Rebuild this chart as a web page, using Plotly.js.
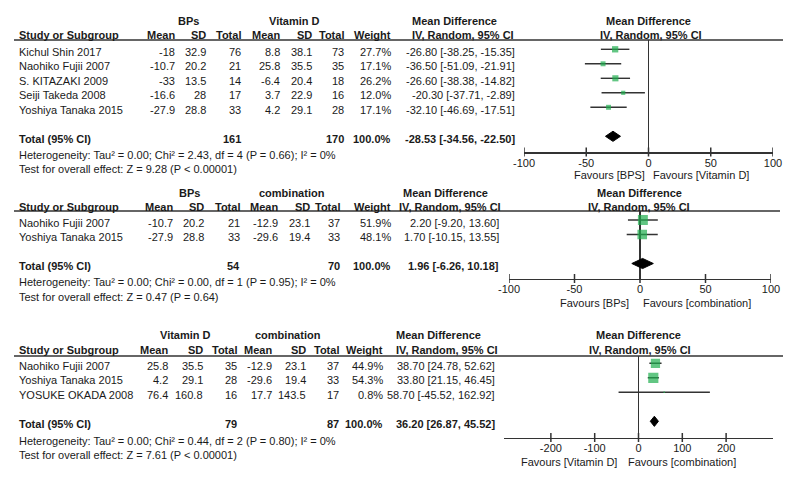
<!DOCTYPE html>
<html><head><meta charset="utf-8">
<script src="https://cdn.plot.ly/plotly-3.0.1.min.js"></script>
<style>html,body{margin:0;padding:0;background:#fff}#chart{width:798px;height:477px}</style>
</head><body><div id="chart"></div>
<script>
// ---------- Panel 1: BPs vs Vitamin D ----------
const studies1 = ["Kichul Shin 2017","Naohiko Fujii 2007","S. KITAZAKI 2009","Seiji Takeda 2008","Yoshiya Tanaka 2015"];
const expMean1 = [-18,-10.7,-33,-16.6,-27.9];
const expSD1   = [32.9,20.2,13.5,28,28.8];
const expN1    = [76,21,14,17,33];
const ctlMean1 = [8.8,25.8,-6.4,3.7,4.2];
const ctlSD1   = [38.1,35.5,20.4,22.9,29.1];
const ctlN1    = [73,35,18,16,28];
const weight1  = [27.7,17.1,26.2,12.0,17.1];
const md1 = [-26.80,-36.50,-26.60,-20.30,-32.10];
const lo1 = [-38.25,-51.09,-38.38,-37.71,-46.69];
const hi1 = [-15.35,-21.91,-14.82,-2.89,-17.51];
const totals1 = [161,170,100.0];          // exp total, ctl total, weight %
const pooled1 = [-28.53,-34.56,-22.50];   // estimate, lower, upper
const groups1 = ["BPs","Vitamin D"];
const favours1 = ["Favours [BPS]","Favours [Vitamin D]"];
const ticks1 = [-100,-50,0,50,100];
const het1 = "Heterogeneity: Tau² = 0.00; Chi² = 2.43, df = 4 (P = 0.66); I² = 0%";
const test1 = "Test for overall effect: Z = 9.28 (P < 0.00001)";

// ---------- Panel 2: BPs vs combination ----------
const studies2 = ["Naohiko Fujii 2007","Yoshiya Tanaka 2015"];
const expMean2 = [-10.7,-27.9];
const expSD2   = [20.2,28.8];
const expN2    = [21,33];
const ctlMean2 = [-12.9,-29.6];
const ctlSD2   = [23.1,19.4];
const ctlN2    = [37,33];
const weight2  = [51.9,48.1];
const md2 = [2.20,1.70];
const lo2 = [-9.20,-10.15];
const hi2 = [13.60,13.55];
const totals2 = [54,70,100.0];
const pooled2 = [1.96,-6.26,10.18];
const groups2 = ["BPs","combination"];
const favours2 = ["Favours [BPs]","Favours [combination]"];
const ticks2 = [-100,-50,0,50,100];
const het2 = "Heterogeneity: Tau² = 0.00; Chi² = 0.00, df = 1 (P = 0.95); I² = 0%";
const test2 = "Test for overall effect: Z = 0.47 (P = 0.64)";

// ---------- Panel 3: Vitamin D vs combination ----------
const studies3 = ["Naohiko Fujii 2007","Yoshiya Tanaka 2015","YOSUKE OKADA 2008"];
const expMean3 = [25.8,4.2,76.4];
const expSD3   = [35.5,29.1,160.8];
const expN3    = [35,28,16];
const ctlMean3 = [-12.9,-29.6,17.7];
const ctlSD3   = [23.1,19.4,143.5];
const ctlN3    = [37,33,17];
const weight3  = [44.9,54.3,0.8];
const md3 = [38.70,33.80,58.70];
const lo3 = [24.78,21.15,-45.52];
const hi3 = [52.62,46.45,162.92];
const totals3 = [79,87,100.0];
const pooled3 = [36.20,26.87,45.52];
const groups3 = ["Vitamin D","combination"];
const favours3 = ["Favours [Vitamin D]","Favours [combination]"];
const ticks3 = [-200,-100,0,100,200];
const het3 = "Heterogeneity: Tau² = 0.00; Chi² = 0.44, df = 2 (P = 0.80); I² = 0%";
const test3 = "Test for overall effect: Z = 7.61 (P < 0.00001)";

const panels = [
  {studies:studies1, em:expMean1, es:expSD1, en:expN1, cm:ctlMean1, cs:ctlSD1, cn:ctlN1, w:weight1, md:md1, lo:lo1, hi:hi1,
   totals:totals1, pooled:pooled1, groups:groups1, favours:favours1, ticks:ticks1, het:het1, test:test1,
   L:{y0:49.3, sp:14.5, top:40, axis:152, grp:21.5, hdr:35, het:155, testY:169, favY:175, xl:524, xr:773, range:[-100,100],
      cols:[175,206,241,280,312,344,391], mdR:515, grpC:[188,294], mdHC:454, mdSC:463, plHC:648, plSC:651, ulR:783, favL:645, favR:653, msz:1.2}},
  {studies:studies2, em:expMean2, es:expSD2, en:expN2, cm:ctlMean2, cs:ctlSD2, cn:ctlN2, w:weight2, md:md2, lo:lo2, hi:hi2,
   totals:totals2, pooled:pooled2, groups:groups2, favours:favours2, ticks:ticks2, het:het2, test:test2,
   L:{y0:220, sp:14.5, top:211, axis:278.5, grp:193, hdr:207, het:282.3, testY:296.5, favY:303, xl:509, xr:771, range:[-100,100],
      cols:[173,204,240,278,310,340,391], mdR:499, grpC:[189,292], mdHC:445, mdSC:450, plHC:639, plSC:639, ulR:780, favL:629, favR:643, msz:1.38}},
  {studies:studies3, em:expMean3, es:expSD3, en:expN3, cm:ctlMean3, cs:ctlSD3, cn:ctlN3, w:weight3, md:md3, lo:lo3, hi:hi3,
   totals:totals3, pooled:pooled3, groups:groups3, favours:favours3, ticks:ticks3, het:het3, test:test3,
   L:{y0:363.3, sp:14.5, top:356, axis:437.5, grp:335, hdr:350, het:441, testY:455, favY:462, xl:504, xr:773, range:[-307,307],
      cols:[168,203,237,272,306,339,383], mdR:495, grpC:[185,288], mdHC:438, mdSC:447, plHC:638, plSC:640, ulR:783, favL:617, favR:628, msz:1.38}}
];

const W = 798, H = 477;
const FONT = "Liberation Sans, Arial, sans-serif";
const TXT = "#1a1a1a", LINE = "#333333", GREEN = "#1fae4f";
const px = x => x / W;
const py = y => 1 - y / H;
const ci = (m,l,h) => m.toFixed(2) + " [" + l.toFixed(2) + ", " + h.toFixed(2) + "]";

const data = [];
const annotations = [];
const shapes = [];
const layout = {
  width: W, height: H, margin: {l:0, r:0, t:0, b:0},
  paper_bgcolor: "#fff", plot_bgcolor: "rgba(0,0,0,0)",
  showlegend: false, hovermode: false,
  font: {family: FONT, size: 11, color: TXT}
};

function txt(x, y, text, anchor, bold) {
  annotations.push({xref:"paper", yref:"paper", x:px(x), y:py(y), text: bold ? "<b>"+text+"</b>" : text,
    xanchor: anchor, yanchor:"middle", showarrow:false, borderpad:0, borderwidth:0,
    font:{family:FONT, size:11, color:TXT}});
}

panels.forEach((p, k) => {
  const L = p.L;
  const sfx = k === 0 ? "" : String(k+1);
  const xa = "x" + sfx, ya = "y" + sfx;
  const n = p.studies.length;
  const totIdx = n + 1;

  layout["xaxis" + sfx] = {
    domain:[px(L.xl), px(L.xr)], range:L.range, anchor:ya, fixedrange:true,
    showline:true, linecolor:LINE, linewidth:1.5, mirror:false,
    showgrid:false, zeroline:true, zerolinecolor:LINE, zerolinewidth:1.5,
    ticks:"", tickmode:"array", tickvals:p.ticks, ticktext:p.ticks.map(String),
    tickfont:{family:FONT, size:11, color:TXT}
  };
  layout["yaxis" + sfx] = {
    domain:[py(L.axis), py(L.top)],
    range:[(L.axis - L.y0)/L.sp, (L.top - L.y0)/L.sp],
    anchor:xa, visible:false, fixedrange:true, showgrid:false, zeroline:false
  };

  // tick marks crossing the axis line (RevMan style)
  p.ticks.forEach(t => shapes.push({type:"line", xref:xa, yref:"paper", x0:t, x1:t,
    y0:py(L.axis + 4.5), y1:py(L.axis - 4.5), line:{color:LINE, width:1.5}}));

  // header underline
  shapes.push({type:"line", xref:"paper", yref:"paper", x0:px(14), x1:px(L.ulR), y0:py(L.top), y1:py(L.top),
    line:{color:LINE, width:1.5}});

  const idx = p.studies.map((_, i) => i);
  // CI whiskers (drawn first so squares sit on top)
  const cx = [], cy = [];
  idx.forEach(i => { cx.push(p.lo[i], p.hi[i], null); cy.push(i, i, null); });
  data.push({type:"scatter", mode:"lines", xaxis:xa, yaxis:ya, x:cx, y:cy,
    line:{color:LINE, width:1.4}, hoverinfo:"skip", connectgaps:false});
  // study squares
  data.push({
    type:"scatter", mode:"markers", xaxis:xa, yaxis:ya, x:p.md, y:idx,
    marker:{symbol:"square", color:GREEN, size:p.w.map(v => Math.max(1.5, L.msz*Math.sqrt(v))), line:{width:0}},
    hoverinfo:"skip"
  });
  // pooled diamond
  const dh = 0.35;
  data.push({
    type:"scatter", mode:"lines", xaxis:xa, yaxis:ya, fill:"toself", fillcolor:"#000",
    x:[p.pooled[1], p.pooled[0], p.pooled[2], p.pooled[0], p.pooled[1]],
    y:[totIdx, totIdx - dh, totIdx, totIdx + dh, totIdx],
    line:{color:"#000", width:1}, hoverinfo:"skip"
  });

  // ----- table text -----
  const c = L.cols;
  txt(L.grpC[0], L.grp, p.groups[0], "center", true);
  txt(L.grpC[1], L.grp, p.groups[1], "center", true);
  txt(L.mdHC, L.grp, "Mean Difference", "center", true);
  txt(L.plHC, L.grp, "Mean Difference", "center", true);
  txt(19, L.hdr, "Study or Subgroup", "left", true);
  ["Mean","SD","Total","Mean","SD","Total","Weight"].forEach((h, j) => txt(c[j], L.hdr, h, "right", true));
  txt(L.mdSC, L.hdr, "IV, Random, 95% CI", "center", true);
  txt(L.plSC, L.hdr, "IV, Random, 95% CI", "center", true);

  p.studies.forEach((s, i) => {
    const y = L.y0 + i*L.sp + 2.5;
    txt(19, y, s, "left", false);
    const vals = [String(p.em[i]), String(p.es[i]), String(p.en[i]), String(p.cm[i]), String(p.cs[i]), String(p.cn[i]), p.w[i].toFixed(1) + "%"];
    vals.forEach((v, j) => txt(c[j], y, v, "right", false));
    txt(L.mdR, y, ci(p.md[i], p.lo[i], p.hi[i]), "right", false);
  });

  const yt = L.y0 + totIdx*L.sp + 2.5;
  txt(19, yt, "Total (95% CI)", "left", true);
  txt(c[2], yt, String(p.totals[0]), "right", true);
  txt(c[5], yt, String(p.totals[1]), "right", true);
  txt(c[6], yt, p.totals[2].toFixed(1) + "%", "right", true);
  txt(L.mdR, yt, ci(p.pooled[0], p.pooled[1], p.pooled[2]), "right", true);
  txt(19, L.het, p.het, "left", false);
  txt(19, L.testY, p.test, "left", false);

  txt(L.favL, L.favY, p.favours[0], "right", false);
  txt(L.favR, L.favY, p.favours[1], "left", false);
});

layout.annotations = annotations;
layout.shapes = shapes;
Plotly.newPlot("chart", data, layout, {displayModeBar:false, staticPlot:true});
</script>
</body></html>
